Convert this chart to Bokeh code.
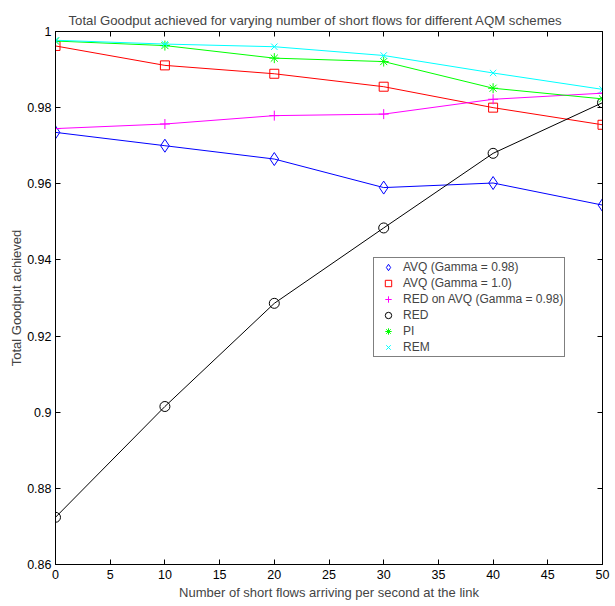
from bokeh.plotting import figure
from bokeh.models import LinearAxis, FixedTicker, Range1d, Legend, LegendItem
from bokeh.embed import file_html
from bokeh.resources import INLINE

x = [0, 10, 20, 30, 40, 50]
avq_098 = [0.9735, 0.9700, 0.9665, 0.9590, 0.9602, 0.9544]
avq_10 = [0.9962, 0.9911, 0.9889, 0.9855, 0.9800, 0.9755]
red_on_avq = [0.9745, 0.9757, 0.9779, 0.9783, 0.9822, 0.9838]
red = [0.8724, 0.9015, 0.9286, 0.9484, 0.9680, 0.9813]
pi = [0.9975, 0.9963, 0.9930, 0.9921, 0.9851, 0.9823]
rem = [0.9977, 0.9967, 0.9960, 0.9937, 0.9891, 0.9848]

x_ticks = [0, 5, 10, 15, 20, 25, 30, 35, 40, 45, 50]
y_ticks = [0.86, 0.88, 0.90, 0.92, 0.94, 0.96, 0.98, 1.0]
y_labels = ["0.86", "0.88", "0.9", "0.92", "0.94", "0.96", "0.98", "1"]

title_text = "Total Goodput achieved for varying number of short flows for different AQM schemes"

series = [
    ("AVQ (Gamma = 0.98)", avq_098, "#0000ff", "diamond", 13),
    ("AVQ (Gamma = 1.0)", avq_10, "#ff0000", "square", 9),
    ("RED on AVQ (Gamma = 0.98)", red_on_avq, "#ff00ff", "cross", 10),
    ("RED", red, "#000000", "circle", 10),
    ("PI", pi, "#00ff00", "asterisk", 10),
    ("REM", rem, "#00ffff", "x", 9),
]

FONT = "Liberation Sans"

p = figure(output_backend="svg", toolbar_location=None,
           x_range=Range1d(0, 50), y_range=Range1d(0.86, 1.0),
           min_border_left=55, min_border_right=10, min_border_top=31, min_border_bottom=40)
p.frame_width = 547
p.frame_height = 533
p.xgrid.visible = False
p.ygrid.visible = False
p.outline_line_color = "black"
p.background_fill_color = "white"

p.title.text = title_text
p.title.align = "left"
p.title.vertical_align = "top"
p.title.text_font = FONT
p.title.text_font_size = "13.2px"
p.title.text_font_style = "normal"
p.title.offset = 13
p.title.standoff = 3

def style_axis(ax, ticks, labels=None, show=True):
    ax.ticker = FixedTicker(ticks=ticks)
    ax.major_tick_in = 5
    ax.major_tick_out = 0
    ax.minor_tick_line_color = None
    ax.axis_line_color = "black"
    ax.major_tick_line_color = "black"
    ax.major_label_text_font = FONT
    ax.major_label_text_font_size = "12.5px"
    ax.major_label_text_color = "black"
    ax.axis_label_text_font = FONT
    ax.axis_label_text_font_size = "13px"
    ax.axis_label_text_font_style = "normal"
    if labels is not None:
        ax.major_label_overrides = {t: l for t, l in zip(ticks, labels)}
    if not show:
        ax.major_label_overrides = {t: "" for t in ticks}
        ax.major_label_standoff = 0
        ax.major_label_text_font_size = "0px"

style_axis(p.xaxis[0], x_ticks)
p.xaxis[0].axis_label = "Number of short flows arriving per second at the link"
p.xaxis[0].major_label_standoff = 5
p.xaxis[0].axis_label_standoff = 3
style_axis(p.yaxis[0], y_ticks, y_labels)
p.yaxis[0].axis_label = "Total Goodput achieved"
p.yaxis[0].major_label_standoff = 4
p.yaxis[0].axis_label_standoff = 0

top = LinearAxis()
style_axis(top, x_ticks, show=False)
p.add_layout(top, "above")
right = LinearAxis()
style_axis(right, y_ticks, show=False)
p.add_layout(right, "right")

items = []
for name, ys, col, mk, sz in series:
    p.line(x, ys, line_color=col, line_width=1)
    r = p.scatter(x, ys, marker=mk, size=sz, line_color=col, fill_color=None, line_width=1)
    items.append(LegendItem(label=name, renderers=[r]))

legend = Legend(items=items, location=(318, 207))
legend.label_text_font = FONT
legend.label_text_font_size = "12px"
legend.glyph_height = 16
legend.glyph_width = 26
legend.label_height = 16
legend.spacing = 0
legend.padding = 1
legend.margin = 0
legend.border_line_color = "black"
legend.border_line_width = 1.5
legend.background_fill_alpha = 1
legend.label_standoff = 2
p.add_layout(legend, "center")

open("out.html", "w").write(file_html(p, INLINE))
